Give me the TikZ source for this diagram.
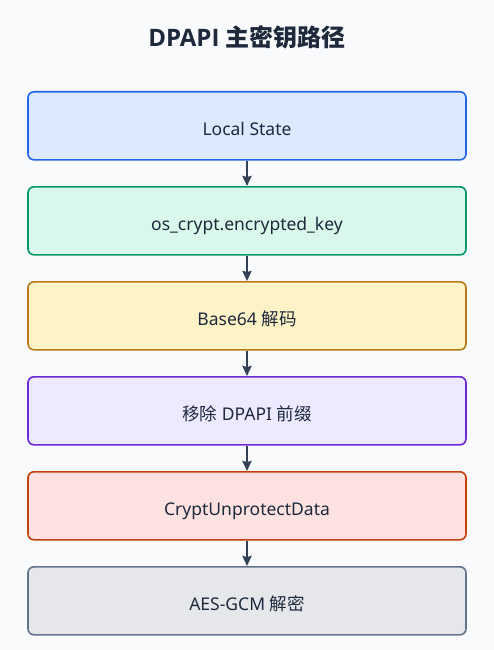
\documentclass[tikz,border=0pt]{standalone}
\usepackage{fontspec}
\setmainfont{Noto Sans}
\newfontfamily\cjk{Noto Sans CJK SC}
\newfontfamily\titlefont{Open Sans}
\usetikzlibrary{arrows.meta}
\definecolor{bg}{HTML}{F8FAFC}
\definecolor{ink}{HTML}{1E293B}
\definecolor{arr}{HTML}{334155}
\definecolor{b1}{HTML}{2563EB}\definecolor{f1}{HTML}{DBEAFE}
\definecolor{b2}{HTML}{059669}\definecolor{f2}{HTML}{D9F7EA}
\definecolor{b3}{HTML}{B97A1A}\definecolor{f3}{HTML}{FEF3C7}
\definecolor{b4}{HTML}{6D28D9}\definecolor{f4}{HTML}{EDE9FE}
\definecolor{b5}{HTML}{C2410C}\definecolor{f5}{HTML}{FEE2E2}
\definecolor{b6}{HTML}{64748B}\definecolor{f6}{HTML}{E5E7EB}
\tikzset{
  box/.style={draw=#1, line width=1.6pt, rounded corners=6pt, minimum width=438pt, minimum height=68pt, text=ink, font=\fontsize{17.5}{20}\selectfont, text height=20pt, text depth=0pt, anchor=north},
  link/.style={draw=arr, line width=2.8pt, -{Stealth[length=10pt,width=9pt,inset=1pt]}},
}
\begin{document}
\begin{tikzpicture}[x=1pt,y=-1pt]
\fill[bg] (0,0) rectangle (494,650);
\useasboundingbox (0,0) rectangle (494,650);
\node[text=ink, font=\fontsize{24}{28}\selectfont] (title) at (247,37) {{\titlefont\bfseries DPAPI} {\cjk\bfseries 主密钥路径}};
\node[box=b1, fill=f1] (n1) at (247,91) {Local State};
\node[box=b2, fill=f2] (n2) at (247,186) {os\_crypt.encrypted\_key};
\node[box=b3, fill=f3] (n3) at (247,281) {Base64 {\cjk 解码}};
\node[box=b4, fill=f4] (n4) at (247,376) {{\cjk 移除} DPAPI {\cjk 前缀}};
\node[box=b5, fill=f5] (n5) at (247,471) {CryptUnprotectData};
\node[box=b6, fill=f6] (n6) at (247,566) {AES-GCM {\cjk 解密}};
\draw[link] (n1.south) -- (n2.north);
\draw[link] (n2.south) -- (n3.north);
\draw[link] (n3.south) -- (n4.north);
\draw[link] (n4.south) -- (n5.north);
\draw[link] (n5.south) -- (n6.north);
\end{tikzpicture}
\end{document}
